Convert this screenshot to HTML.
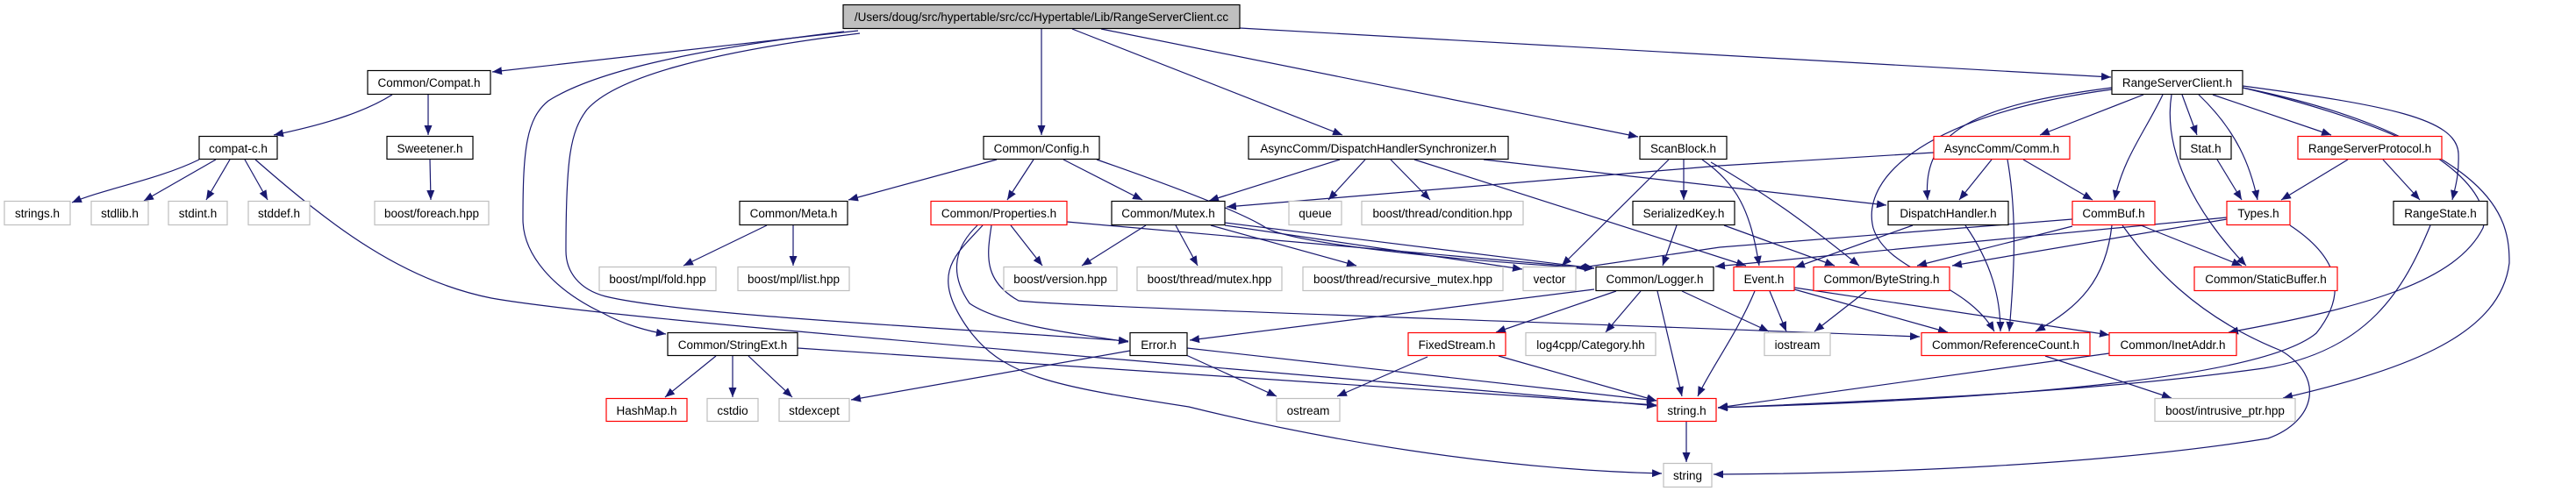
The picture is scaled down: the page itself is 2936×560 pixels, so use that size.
<!DOCTYPE html>
<html><head><meta charset="utf-8"><style>
html,body{margin:0;padding:0;background:#fff;}
svg{display:block;}
text{font-family:"Liberation Sans",sans-serif;font-size:13.5px;fill:#000;}
</style></head><body>
<svg width="2936" height="560" viewBox="0 0 2936 560" xmlns="http://www.w3.org/2000/svg">
<defs>
<marker id="a" markerUnits="userSpaceOnUse" markerWidth="12" markerHeight="10" refX="11" refY="4.5" orient="auto">
<path d="M0,0 L11,4.5 L0,9 z" fill="#191970"/>
</marker>
</defs>
<g fill="none" stroke="#191970" stroke-width="1.2" marker-end="url(#a)">
<path d="M978,35 L561,82"/>
<path d="M962,36 C800,55 680,80 625,115 C600,135 596,170 596,250 C596,290 630,330 687,357 C710,370 740,378 759,381"/>
<path d="M980,38 C800,60 700,90 669,125 C650,150 645,180 645,286 C645,310 660,330 690,338 C780,360 1100,375 1286,389"/>
<path d="M1187,33 L1187,154"/>
<path d="M1222,33 L1530,154"/>
<path d="M1255,33 L1867,156"/>
<path d="M1413,32 L2406,88"/>
<path d="M447,108 C420,125 380,140 312,154"/>
<path d="M488,108 L488,154"/>
<path d="M490,182 L491,228"/>
<path d="M227,182 C180,205 120,215 82,231"/>
<path d="M246,182 L164,229"/>
<path d="M262,182 L235,228"/>
<path d="M279,182 L305,228"/>
<path d="M291,182 C380,260 460,320 560,340 C700,365 1300,410 1888,463"/>
<path d="M874,257 L779,303"/>
<path d="M904,257 L904,303"/>
<path d="M816,406 L758,453"/>
<path d="M835,406 L835,453"/>
<path d="M853,406 L903,453"/>
<path d="M909,397 L1888,462"/>
<path d="M1136,182 L967,228"/>
<path d="M1178,182 L1148,228"/>
<path d="M1212,182 L1302,228"/>
<path d="M1250,182 C1330,210 1410,240 1440,258 C1470,280 1700,300 1817,306"/>
<path d="M1527,182 L1378,229"/>
<path d="M1556,182 L1514,228"/>
<path d="M1585,182 L1630,228"/>
<path d="M1612,182 L1990,303"/>
<path d="M1691,182 L2150,234"/>
<path d="M1902,182 L1780,303"/>
<path d="M1919,182 L1919,228"/>
<path d="M1940,182 C1980,210 1995,240 2005,303"/>
<path d="M1950,185 C2030,230 2090,280 2119,303"/>
<path d="M1911,257 L1895,303"/>
<path d="M1965,257 L2091,303"/>
<path d="M1306,257 L1233,303"/>
<path d="M1340,257 L1365,303"/>
<path d="M1380,257 L1546,303"/>
<path d="M1396,254 L1817,306"/>
<path d="M1396,257 L1735,307"/>
<path d="M1152,257 L1188,303"/>
<path d="M1216,253 L1817,306"/>
<path d="M1114,257 C1090,280 1080,310 1105,346 C1140,370 1220,380 1286,390"/>
<path d="M1120,257 C1090,290 1060,310 1100,370 C1140,430 1200,440 1355,464 C1500,500 1700,535 1894,540"/>
<path d="M1130,257 C1125,290 1120,320 1161,343 C1220,350 1700,365 2188,384"/>
<path d="M1817,330 L1356,388"/>
<path d="M1842,332 L1705,379"/>
<path d="M1870,332 L1830,379"/>
<path d="M1889,332 L1917,452"/>
<path d="M1917,332 L2016,378"/>
<path d="M1352,405 L1455,452"/>
<path d="M1353,397 L1888,457"/>
<path d="M1288,400 L970,456"/>
<path d="M1627,407 L1524,452"/>
<path d="M1708,406 L1888,457"/>
<path d="M1922,481 L1922,527"/>
<path d="M2443,108 L2325,154"/>
<path d="M2465,108 C2445,150 2420,180 2410,228"/>
<path d="M2487,108 L2504,154"/>
<path d="M2506,108 C2550,150 2565,190 2573,228"/>
<path d="M2522,108 L2657,154"/>
<path d="M2556,98 C2720,120 2800,135 2802,175 C2803,200 2798,215 2795,228"/>
<path d="M2475,108 C2465,170 2500,240 2560,303"/>
<path d="M2407,100 C2250,120 2190,150 2197,228"/>
<path d="M2407,102 C2200,130 2120,200 2135,260 C2150,310 2240,320 2273,378"/>
<path d="M2556,100 C2800,150 2840,230 2830,260 C2800,320 2700,350 2540,379"/>
<path d="M2556,100 C2850,170 2860,250 2860,300 C2850,380 2750,420 2602,454"/>
<path d="M2204,174 L1960,189 L1398,236"/>
<path d="M2270,182 L2233,228"/>
<path d="M2288,182 C2300,250 2295,320 2290,378"/>
<path d="M2306,182 L2385,228"/>
<path d="M2180,257 L2046,305"/>
<path d="M2240,257 C2270,300 2280,340 2280,378"/>
<path d="M2362,250 L1960,282 L1797,306"/>
<path d="M2362,258 L2185,303"/>
<path d="M2407,257 C2400,320 2370,350 2320,378"/>
<path d="M2440,257 L2555,303"/>
<path d="M2419,257 C2450,300 2500,360 2600,400 C2650,430 2640,480 2585,500 C2400,530 2150,540 1953,541"/>
<path d="M2538,250 L2225,303"/>
<path d="M2538,248 L1955,304"/>
<path d="M2610,257 C2660,290 2680,330 2640,380 C2580,430 2300,455 1958,465"/>
<path d="M2527,182 L2555,228"/>
<path d="M2676,182 L2600,228"/>
<path d="M2716,182 L2758,228"/>
<path d="M2770,257 C2740,330 2700,400 2580,420 C2400,445 2200,455 1958,465"/>
<path d="M2017,332 L2036,378"/>
<path d="M2000,332 C1980,380 1950,420 1935,452"/>
<path d="M2045,330 L2220,379"/>
<path d="M2045,328 L2404,382"/>
<path d="M2127,332 L2068,378"/>
<path d="M2331,406 L2475,454"/>
<path d="M2404,403 L1958,465"/>
</g>
<g stroke-width="1.2" fill="#fff">
<rect x="961" y="5.5" width="452" height="27" fill="#bfbfbf" stroke="#000"/>
<rect x="419" y="80.5" width="140" height="27" stroke="#000"/>
<rect x="227" y="155.5" width="89" height="26" stroke="#000"/>
<rect x="441" y="155.5" width="98" height="26" stroke="#000"/>
<rect x="5" y="229.5" width="75" height="27" stroke="#bfbfbf"/>
<rect x="104" y="229.5" width="65" height="27" stroke="#bfbfbf"/>
<rect x="192" y="229.5" width="67" height="27" stroke="#bfbfbf"/>
<rect x="283" y="229.5" width="70" height="27" stroke="#bfbfbf"/>
<rect x="427" y="229.5" width="130" height="27" stroke="#bfbfbf"/>
<rect x="843" y="229.5" width="123" height="27" stroke="#000"/>
<rect x="683" y="304.5" width="133" height="27" stroke="#bfbfbf"/>
<rect x="841" y="304.5" width="127" height="27" stroke="#bfbfbf"/>
<rect x="761" y="379.5" width="148" height="26" stroke="#000"/>
<rect x="691" y="454.5" width="92" height="26" stroke="#ff0000"/>
<rect x="806" y="454.5" width="58" height="26" stroke="#bfbfbf"/>
<rect x="888" y="454.5" width="80" height="26" stroke="#bfbfbf"/>
<rect x="1121" y="155.5" width="132" height="26" stroke="#000"/>
<rect x="1423" y="155.5" width="296" height="26" stroke="#000"/>
<rect x="1869" y="155.5" width="99" height="26" stroke="#000"/>
<rect x="1061" y="229.5" width="155" height="27" stroke="#ff0000"/>
<rect x="1267" y="229.5" width="129" height="27" stroke="#000"/>
<rect x="1469" y="229.5" width="60" height="27" stroke="#bfbfbf"/>
<rect x="1552" y="229.5" width="184" height="27" stroke="#bfbfbf"/>
<rect x="1861" y="229.5" width="116" height="27" stroke="#000"/>
<rect x="1144" y="304.5" width="129" height="27" stroke="#bfbfbf"/>
<rect x="1296" y="304.5" width="165" height="27" stroke="#bfbfbf"/>
<rect x="1485" y="304.5" width="228" height="27" stroke="#bfbfbf"/>
<rect x="1736" y="304.5" width="60" height="27" stroke="#bfbfbf"/>
<rect x="1819" y="304.5" width="134" height="27" stroke="#000"/>
<rect x="1288" y="379.5" width="65" height="26" stroke="#000"/>
<rect x="1605" y="379.5" width="111" height="26" stroke="#ff0000"/>
<rect x="1739" y="379.5" width="148" height="26" stroke="#bfbfbf"/>
<rect x="1455" y="454.5" width="72" height="26" stroke="#bfbfbf"/>
<rect x="1889" y="454.5" width="67" height="26" stroke="#ff0000"/>
<rect x="1896" y="528.5" width="55" height="27" stroke="#bfbfbf"/>
<rect x="2407" y="80.5" width="149" height="27" stroke="#000"/>
<rect x="2204" y="155.5" width="155" height="26" stroke="#ff0000"/>
<rect x="2485" y="155.5" width="58" height="26" stroke="#000"/>
<rect x="2619" y="155.5" width="164" height="26" stroke="#ff0000"/>
<rect x="2152" y="229.5" width="137" height="27" stroke="#000"/>
<rect x="2362" y="229.5" width="94" height="27" stroke="#ff0000"/>
<rect x="2538" y="229.5" width="72" height="27" stroke="#ff0000"/>
<rect x="2728" y="229.5" width="107" height="27" stroke="#000"/>
<rect x="1976" y="304.5" width="69" height="27" stroke="#ff0000"/>
<rect x="2067" y="304.5" width="155" height="27" stroke="#ff0000"/>
<rect x="2501" y="304.5" width="163" height="27" stroke="#ff0000"/>
<rect x="2011" y="379.5" width="75" height="26" stroke="#bfbfbf"/>
<rect x="2190" y="379.5" width="192" height="26" stroke="#ff0000"/>
<rect x="2404" y="379.5" width="145" height="26" stroke="#ff0000"/>
<rect x="2456" y="454.5" width="160" height="26" stroke="#bfbfbf"/>
</g>
<g text-anchor="middle">
<text x="1187" y="24">/Users/doug/src/hypertable/src/cc/Hypertable/Lib/RangeServerClient.cc</text>
<text x="489" y="99">Common/Compat.h</text>
<text x="271.5" y="174">compat-c.h</text>
<text x="490" y="174">Sweetener.h</text>
<text x="42.5" y="248">strings.h</text>
<text x="136.5" y="248">stdlib.h</text>
<text x="225.5" y="248">stdint.h</text>
<text x="318" y="248">stddef.h</text>
<text x="492" y="248">boost/foreach.hpp</text>
<text x="904.5" y="248">Common/Meta.h</text>
<text x="749.5" y="323">boost/mpl/fold.hpp</text>
<text x="904.5" y="323">boost/mpl/list.hpp</text>
<text x="835" y="398">Common/StringExt.h</text>
<text x="737" y="473">HashMap.h</text>
<text x="835" y="473">cstdio</text>
<text x="928" y="473">stdexcept</text>
<text x="1187" y="174">Common/Config.h</text>
<text x="1571" y="174">AsyncComm/DispatchHandlerSynchronizer.h</text>
<text x="1918.5" y="174">ScanBlock.h</text>
<text x="1138.5" y="248">Common/Properties.h</text>
<text x="1331.5" y="248">Common/Mutex.h</text>
<text x="1499" y="248">queue</text>
<text x="1644" y="248">boost/thread/condition.hpp</text>
<text x="1919" y="248">SerializedKey.h</text>
<text x="1208.5" y="323">boost/version.hpp</text>
<text x="1378.5" y="323">boost/thread/mutex.hpp</text>
<text x="1599" y="323">boost/thread/recursive_mutex.hpp</text>
<text x="1766" y="323">vector</text>
<text x="1886" y="323">Common/Logger.h</text>
<text x="1320.5" y="398">Error.h</text>
<text x="1660.5" y="398">FixedStream.h</text>
<text x="1813" y="398">log4cpp/Category.hh</text>
<text x="1491" y="473">ostream</text>
<text x="1922.5" y="473">string.h</text>
<text x="1923.5" y="547">string</text>
<text x="2481.5" y="99">RangeServerClient.h</text>
<text x="2281.5" y="174">AsyncComm/Comm.h</text>
<text x="2514" y="174">Stat.h</text>
<text x="2701" y="174">RangeServerProtocol.h</text>
<text x="2220.5" y="248">DispatchHandler.h</text>
<text x="2409" y="248">CommBuf.h</text>
<text x="2574" y="248">Types.h</text>
<text x="2781.5" y="248">RangeState.h</text>
<text x="2010.5" y="323">Event.h</text>
<text x="2144.5" y="323">Common/ByteString.h</text>
<text x="2582.5" y="323">Common/StaticBuffer.h</text>
<text x="2048.5" y="398">iostream</text>
<text x="2286" y="398">Common/ReferenceCount.h</text>
<text x="2476.5" y="398">Common/InetAddr.h</text>
<text x="2536" y="473">boost/intrusive_ptr.hpp</text>
</g>
</svg>
</body></html>
